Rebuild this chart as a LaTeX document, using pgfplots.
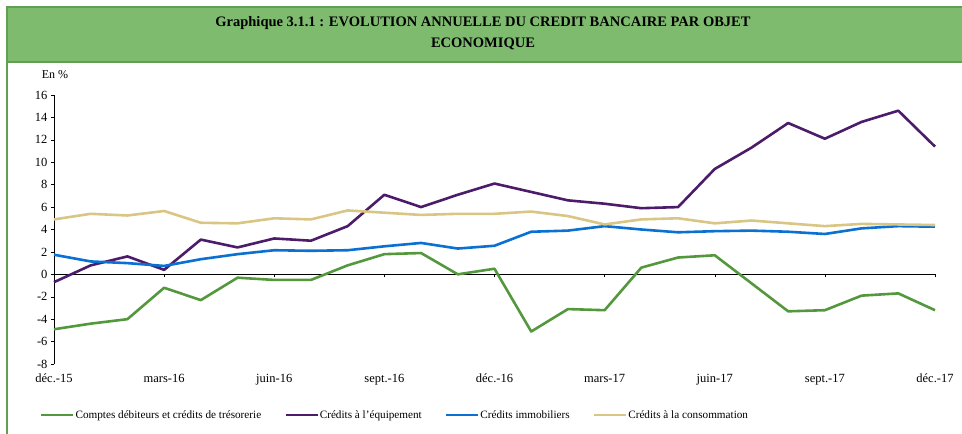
\documentclass[border=0pt]{standalone}
\usepackage{pgfplots}
\pgfplotsset{compat=1.18}
\usepackage{fontspec}
\setmainfont{Liberation Serif}

\definecolor{cgreen}{RGB}{84,152,62}
\definecolor{cpurple}{RGB}{76,28,106}
\definecolor{cblue}{RGB}{10,112,210}
\definecolor{cbeige}{RGB}{218,198,132}
\definecolor{titlebg}{RGB}{126,187,111}
\definecolor{frame}{RGB}{96,160,80}

\begin{document}
\begin{tikzpicture}[x=1pt,y=1pt]
\clip (-54,-70) rectangle (908,364);
% cadre et titre
\draw[frame, line width=1.2pt] (-47,-80) -- (-47,303);
\draw[frame, fill=titlebg, line width=1.2pt] (-47,302) rectangle (920,357);
\node[font=\bfseries\fontsize{14.5}{16}\selectfont] at (429,341) {Graphique 3.1.1 : EVOLUTION ANNUELLE DU CREDIT BANCAIRE PAR OBJET};
\node[font=\bfseries\fontsize{14.5}{16}\selectfont] at (429,320) {ECONOMIQUE};
\node[font=\fontsize{12}{14}\selectfont] at (1,289) {En \%};

\begin{axis}[
	at={(0,0)}, anchor=south west,
	scale only axis,
	width=881pt, height=269pt,
	xmin=0, xmax=24,
	ymin=-8, ymax=16,
	axis x line=middle,
	axis y line=left,
	axis line style={-, black, line width=0.6pt},
	hide obscured x ticks=false,
	xtick={0,3,...,24},
	xticklabels={d\'ec.-15,mars-16,juin-16,sept.-16,d\'ec.-16,mars-17,juin-17,sept.-17,d\'ec.-17},
	xticklabel style={font=\fontsize{12.5}{14}\selectfont, yshift=-93pt},
	ytick={-8,-6,...,16},
	yticklabel style={font=\fontsize{12.5}{14}\selectfont},
	/pgf/number format/assume math mode=true,
	tick align=outside,
	major tick length=3pt,
	tick style={black, line width=0.5pt},
	legend columns=4,
	legend style={at={(0.3865,-0.19)}, anchor=center, draw=none, fill=none,
		font=\fontsize{11.2}{13}\selectfont,
		/tikz/every even column/.append style={column sep=22pt},
		nodes={inner xsep=1pt}},
	legend image code/.code={\draw[#1] (0pt,0pt) -- (32pt,0pt);},
	every axis plot/.append style={line width=2.6pt, line join=round},
	clip=false,
]
\addplot[cgreen] coordinates {
(0,-4.9) (1,-4.4) (2,-4.0) (3,-1.2) (4,-2.3) (5,-0.3) (6,-0.5) (7,-0.5) (8,0.8)
(9,1.8) (10,1.9) (11,0.0) (12,0.5) (13,-5.1) (14,-3.1) (15,-3.2) (16,0.6)
(17,1.5) (18,1.7) (19,-0.8) (20,-3.3) (21,-3.2) (22,-1.9) (23,-1.7) (24,-3.2)};
\addplot[cpurple] coordinates {
(0,-0.7) (1,0.8) (2,1.6) (3,0.4) (4,3.1) (5,2.4) (6,3.2) (7,3.0) (8,4.3)
(9,7.1) (10,6.0) (11,7.1) (12,8.1) (13,7.35) (14,6.6) (15,6.3) (16,5.9)
(17,6.0) (18,9.4) (19,11.3) (20,13.5) (21,12.1) (22,13.6) (23,14.6) (24,11.4)};
\addplot[cblue] coordinates {
(0,1.75) (1,1.15) (2,1.0) (3,0.75) (4,1.35) (5,1.8) (6,2.15) (7,2.1) (8,2.15)
(9,2.5) (10,2.8) (11,2.3) (12,2.55) (13,3.8) (14,3.9) (15,4.3) (16,4.0)
(17,3.75) (18,3.85) (19,3.9) (20,3.8) (21,3.6) (22,4.1) (23,4.3) (24,4.25)};
\addplot[cbeige] coordinates {
(0,4.9) (1,5.4) (2,5.25) (3,5.65) (4,4.6) (5,4.55) (6,5.0) (7,4.9) (8,5.7)
(9,5.5) (10,5.3) (11,5.4) (12,5.4) (13,5.6) (14,5.2) (15,4.45) (16,4.9)
(17,5.0) (18,4.55) (19,4.8) (20,4.55) (21,4.3) (22,4.5) (23,4.45) (24,4.4)};
\legend{Comptes d\'ebiteurs et cr\'edits de tr\'esorerie, Cr\'edits \`a l'\'equipement, Cr\'edits immobiliers, Cr\'edits \`a la consommation}
\end{axis}
\end{tikzpicture}
\end{document}
